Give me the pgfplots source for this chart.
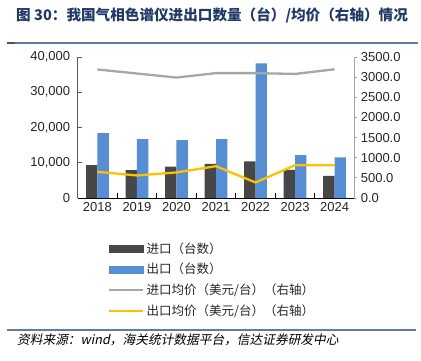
\documentclass[border=0pt]{standalone}
\usepackage{fontspec}
\usepackage{pgfplots}
\pgfplotsset{compat=1.18}
\setmainfont{Liberation Sans}
\newfontfamily\cjk{Noto Sans CJK SC}
\newfontfamily\cjkit[FakeSlant=0.2]{Noto Sans CJK SC}
\definecolor{imp}{HTML}{474747}
\definecolor{exp}{HTML}{558ED5}
\definecolor{gline}{HTML}{A6A6A6}
\definecolor{yline}{HTML}{FFC000}
\definecolor{navy}{HTML}{1F3A68}
\definecolor{ftrrule}{HTML}{5B7DA6}
\begin{document}
\begin{tikzpicture}
\useasboundingbox (0pt,0pt) rectangle (421pt,-360pt);
% title
\node[anchor=west,inner sep=0pt,text=navy,font=\cjk\bfseries\fontsize{14.6pt}{16pt}\selectfont] at (16pt,-15pt) {图\ 30：我国气相色谱仪进出口数量（台）/均价（右轴）情况};
\draw[draw=ftrrule,line width=1.5pt] (7pt,-43.2pt) -- (418pt,-43.2pt);
\fill[ftrrule!70!black] (7pt,-42.2pt) rectangle (15pt,-44pt);
% footer
\fill[ftrrule] (7pt,-329pt) rectangle (416pt,-331pt);
\node[anchor=west,inner sep=0pt,font=\cjkit\fontsize{12.7pt}{14pt}\selectfont] at (17pt,-340pt) {资料来源：wind，海关统计数据平台，信达证券研发中心};

\begin{axis}[
  at={(77.7pt,-198pt)}, anchor=south west,
  scale only axis, width=276.6pt, height=141pt,
  xmin=-0.5, xmax=6.5, ymin=0, ymax=40000,
  axis y line*=left, axis x line*=bottom,
  ybar=0pt, bar width=11.3pt,
  xtick={0,...,6},
  xticklabels={2018,2019,2020,2021,2022,2023,2024},
  major x tick style={draw=none},
  minor xtick={0.5,1.5,...,5.5},
  minor tick length=5pt,
  minor x tick style={black,line width=0.8pt},
  ytick={0,10000,20000,30000,40000},
  tick align=inside,
  major tick length=4pt,
  y axis line style={draw=black!65,line width=0.9pt},
  x axis line style={black,line width=1pt},
  ytick style={black!65,line width=0.8pt},
  ticklabel style={font=\fontsize{13pt}{15pt}\selectfont, text=black!85},
  /pgf/number format/assume math mode=true,
  /pgf/number format/1000 sep={,},
  scaled y ticks=false,
  yticklabel style={xshift=-4pt},
  xticklabel style={yshift=-1pt},
  clip=false,
]
\addplot[fill=imp,draw=none] coordinates {(0,9300) (1,7900) (2,8900) (3,9700) (4,10400) (5,7950) (6,6250)};
\addplot[fill=exp,draw=none] coordinates {(0,18400) (1,16700) (2,16400) (3,16700) (4,38200) (5,12200) (6,11550)};
\end{axis}

\begin{axis}[
  at={(77.7pt,-198pt)}, anchor=south west,
  scale only axis, width=276.6pt, height=141pt,
  xmin=-0.5, xmax=6.5, ymin=0, ymax=3500,
  axis y line*=right, axis x line=none,
  ytick={0,500,...,3500},
  tick align=outside,
  major tick length=3pt,
  y axis line style={draw=gline,line width=1pt},
  ytick style={gline,line width=0.8pt},
  ticklabel style={font=\fontsize{13pt}{15pt}\selectfont, text=black!85},
  /pgf/number format/assume math mode=true,
  /pgf/number format/.cd, fixed, fixed zerofill, precision=1, 1000 sep={},
  /pgfplots/.cd,
  clip=false,
  legend style={at={(0.11,-0.30)}, anchor=north west, draw=none, fill=none,
     font=\cjk\fontsize{12.5pt}{14pt}\selectfont, inner sep=0pt,
     row sep=4.5pt, text=black!85},
  legend cell align=left,
]
\addlegendimage{legend image code/.code={\fill[imp] (0pt,-3.4pt) rectangle (34pt,3.4pt);}}
\addlegendentry{进口（台数）}
\addlegendimage{legend image code/.code={\fill[exp] (0pt,-3.4pt) rectangle (34pt,3.4pt);}}
\addlegendentry{出口（台数）}
\addplot[gline,line width=2.3pt,mark=none,legend image code/.code={\draw[gline,line width=2.3pt] (0pt,0pt) -- (34pt,0pt);}] coordinates {(0,3190) (1,3090) (2,2990) (3,3100) (4,3100) (5,3080) (6,3195)};
\addlegendentry{进口均价（美元/台）（右轴）}
\addplot[yline,line width=2.3pt,mark=none,legend image code/.code={\draw[yline,line width=2.3pt] (0pt,0pt) -- (34pt,0pt);}] coordinates {(0,650) (1,560) (2,635) (3,790) (4,385) (5,812) (6,812)};
\addlegendentry{出口均价（美元/台）（右轴）}
\end{axis}
\end{tikzpicture}
\end{document}
